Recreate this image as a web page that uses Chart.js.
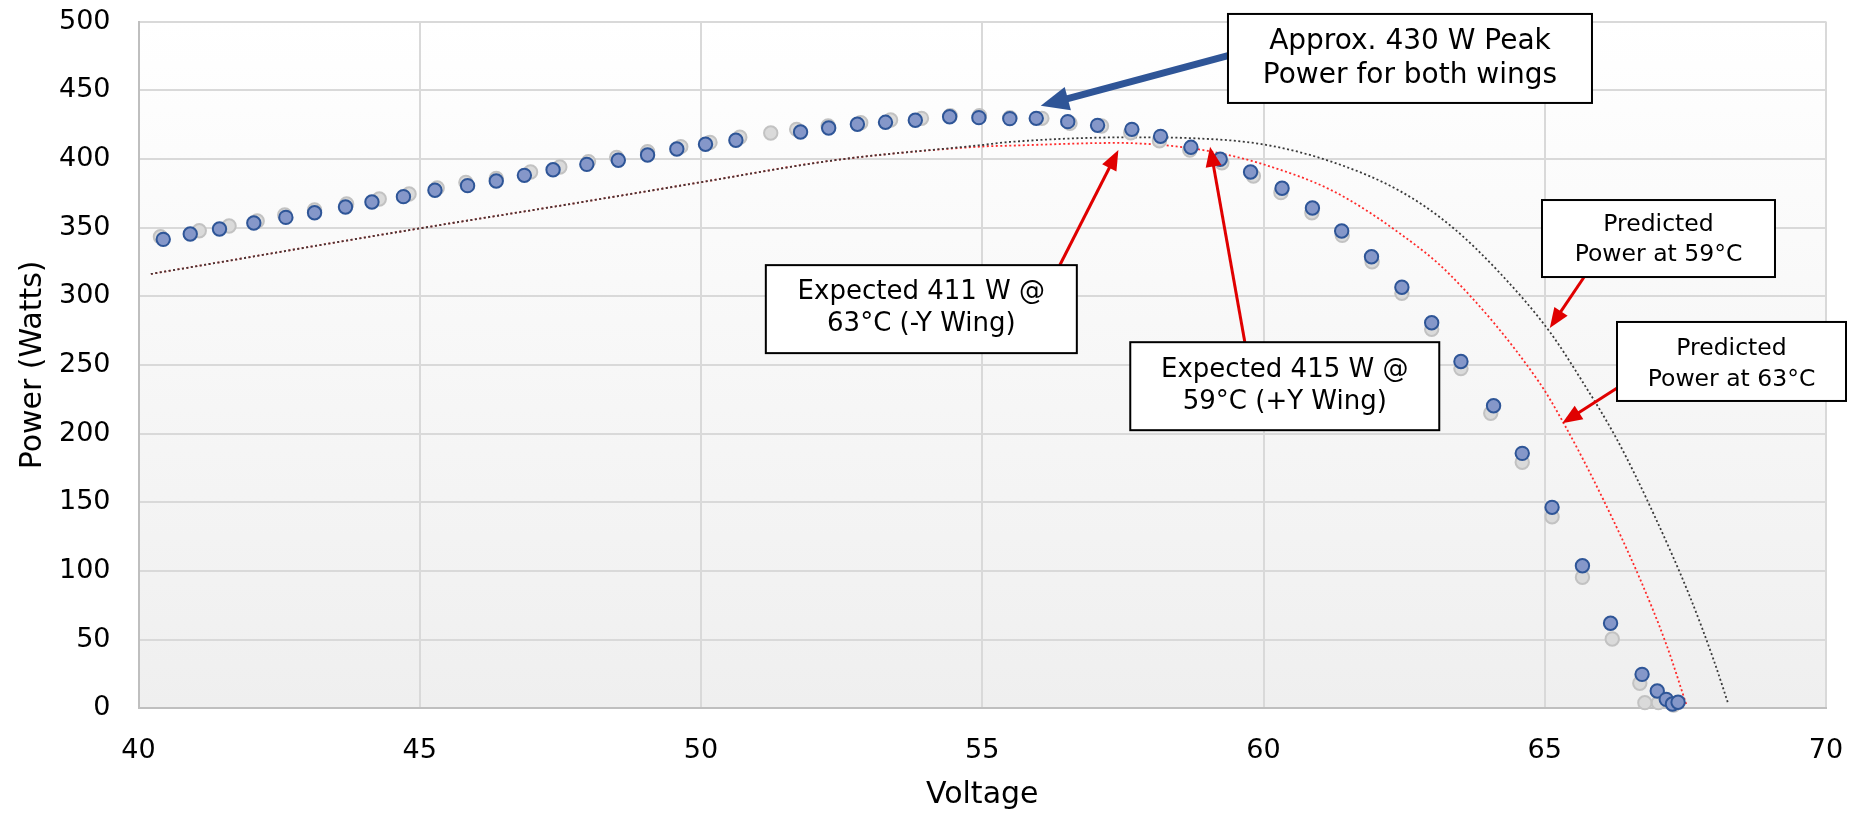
<!DOCTYPE html>
<html>
<head>
<meta charset="utf-8">
<script src="https://cdn.jsdelivr.net/npm/chart.js@4.4.0/dist/chart.umd.min.js"></script>
<style>
html,body{margin:0;padding:0;background:#fff;}
#wrap{width:1870px;height:815px;position:relative;}
</style>
</head>
<body>
<div id="wrap"><canvas id="c" width="1870" height="815"></canvas></div>
<script>
// ---- Tick labels ----
const xTickValues = [40, 45, 50, 55, 60, 65, 70];
const yTickValues = [0, 50, 100, 150, 200, 250, 300, 350, 400, 450, 500];

// ---- Measured wing data (blue markers) ----
const blueVoltage = [40.44,40.92,41.44,42.05,42.62,43.13,43.68,44.15,44.71,45.27,45.85,46.36,46.86,47.37,47.97,48.53,49.05,49.57,50.08,50.62,51.77,52.27,52.78,53.28,53.81,54.42,54.94,55.49,55.96,56.52,57.05,57.66,58.17,58.71,59.23,59.77,60.33,60.87,61.39,61.92,62.46,62.99,63.51,64.09,64.60,65.13,65.67,66.17,66.73,67.00,67.16,67.27,67.37];
const bluePower = [341.4,345.3,348.9,353.3,357.4,360.8,365.0,368.6,372.5,377.1,380.5,383.9,388.0,392.1,396.0,399.0,402.8,407.2,410.6,413.5,419.6,422.5,425.2,426.6,428.1,430.7,430.0,429.3,429.5,427.1,424.4,421.5,416.4,408.4,399.7,390.4,378.6,364.2,347.5,328.7,306.5,280.7,252.5,220.3,185.6,146.3,103.8,61.9,24.7,12.6,6.5,3.1,4.4];

// ---- Measured wing data (grey markers) ----
const grayVoltage = [40.39,41.08,41.61,42.11,42.60,43.13,43.70,44.28,44.81,45.31,45.82,46.36,46.97,47.49,48.00,48.50,49.05,49.64,50.16,50.69,51.24,51.70,52.26,52.84,53.37,53.92,54.43,54.95,55.49,56.06,56.56,57.12,57.64,58.15,58.69,59.26,59.82,60.31,60.86,61.40,61.93,62.46,62.99,63.51,64.04,64.60,65.13,65.67,66.20,66.69,66.78,67.02,67.29];
const grayPower = [343.3,347.7,351.1,354.8,359.1,362.8,367.1,370.8,374.4,378.8,382.9,385.8,390.4,394.1,398.0,401.1,405.2,408.9,412.0,415.7,418.8,421.5,423.9,426.3,428.3,429.5,431.4,431.4,430.0,429.5,425.9,423.9,419.0,413.2,406.4,397.2,387.5,375.4,360.8,344.3,325.1,302.1,275.9,247.4,214.8,179.1,139.5,95.4,50.5,18.2,4.1,4.1,2.4];

// ---- Predicted curve at 59°C (black dotted) ----
const pred59Voltage = [40.22,45.0,47.67,49.24,49.98,52.41,55.0,55.49,57.63,58.75,60.0,61.24,62.43,63.32,64.2,65.09,65.66,66.28,66.93,67.58,68.0,68.26];
const pred59Power = [316.2,349.4,367.1,377.8,382.9,399.2,410.1,412.3,415.7,415.0,410.5,397.5,376.5,351.5,317.0,274.0,238.5,196.0,142.0,81.3,35.5,3.6];

// ---- Predicted curve at 63°C (red dotted) ----
const pred63Voltage = [40.22,45.0,47.67,49.24,49.98,52.41,55.0,55.49,57.4,58.63,59.23,60.0,61.24,62.43,63.32,64.89,65.33,66.04,66.69,67.17,67.52];
const pred63Power = [316.2,349.4,367.1,377.8,382.9,399.2,409.0,409.6,411.6,408.2,404.0,396.0,376.5,345.5,315.5,238.0,208.0,152.0,94.5,45.5,2.4];

// ---- Annotation texts ----
const note1 = ['Approx. 430 W Peak', 'Power for both wings'];
const note2 = ['Expected 411 W @', '63°C (-Y Wing)'];
const note3 = ['Expected 415 W @', '59°C (+Y Wing)'];
const note4 = ['Predicted', 'Power at 59°C'];
const note5 = ['Predicted', 'Power at 63°C'];

const toPts = (xs, ys) => xs.map((v, i) => ({x: v, y: ys[i]}));

const FONT = '"DejaVu Sans", Verdana, sans-serif';
Chart.defaults.font.family = FONT;
Chart.defaults.color = '#000';

// annotation layout (anchors in data units)
const boxes = [
  {at:[62.604, 473.1], w:364, h:89, size:28, lh:34, dy:0.5, lines:note1},
  {at:[53.917, 290.6], w:311, h:88, size:26, lh:32, dy:-1, lines:note2},
  {at:[60.378, 234.5], w:309, h:88, size:26, lh:32, dy:0, lines:note3},
  {at:[67.022, 342.0], w:233, h:77, size:23.5, lh:30, dy:1.5, lines:note4},
  {at:[68.32, 252.5], w:229, h:79, size:23.5, lh:31, dy:3, lines:note5}
];
const arrows = [
  {from:[59.37, 475.1], to:[56.04, 438.6], color:'#2f5597', lw:7, hl:28, hw:12},
  {from:[56.38, 322.7], to:[57.42, 406.4], color:'#e00000', lw:3, hl:20, hw:8},
  {from:[59.67, 266.2], to:[59.05, 408.9], color:'#e00000', lw:3, hl:20, hw:8},
  {from:[65.70, 314.0], to:[65.09, 276.9], color:'#e00000', lw:3, hl:20, hw:8},
  {from:[66.28, 233.0], to:[65.31, 207.5], color:'#e00000', lw:3, hl:20, hw:8}
];

function drawArrow(ctx, x1, y1, x2, y2, a) {
  const ang = Math.atan2(y2 - y1, x2 - x1);
  const bx = x2 - a.hl * Math.cos(ang), by = y2 - a.hl * Math.sin(ang);
  ctx.strokeStyle = a.color; ctx.lineWidth = a.lw; ctx.lineCap = 'butt';
  ctx.beginPath(); ctx.moveTo(x1, y1); ctx.lineTo(bx + Math.cos(ang), by + Math.sin(ang)); ctx.stroke();
  ctx.fillStyle = a.color;
  ctx.beginPath();
  ctx.moveTo(x2, y2);
  ctx.lineTo(bx + a.hw * Math.sin(ang), by - a.hw * Math.cos(ang));
  ctx.lineTo(bx - a.hw * Math.sin(ang), by + a.hw * Math.cos(ang));
  ctx.closePath(); ctx.fill();
}

const bgPlugin = {
  id: 'plotBg',
  beforeDraw(chart) {
    const {ctx, chartArea: a} = chart;
    const g = ctx.createLinearGradient(0, a.top, 0, a.bottom);
    g.addColorStop(0, '#ffffff');
    g.addColorStop(1, '#efefef');
    ctx.save(); ctx.fillStyle = g; ctx.fillRect(a.left, a.top, a.right - a.left, a.bottom - a.top); ctx.restore();
  }
};

const annoPlugin = {
  id: 'notes',
  afterDraw(chart) {
    const {ctx, scales: {x, y}} = chart;
    ctx.save();
    arrows.forEach(a => drawArrow(ctx,
      x.getPixelForValue(a.from[0]), y.getPixelForValue(a.from[1]),
      x.getPixelForValue(a.to[0]), y.getPixelForValue(a.to[1]), a));
    boxes.forEach(b => {
      const cx = x.getPixelForValue(b.at[0]), cy = y.getPixelForValue(b.at[1]);
      ctx.fillStyle = '#fff';
      ctx.fillRect(cx - b.w / 2, cy - b.h / 2, b.w, b.h);
      ctx.strokeStyle = '#000'; ctx.lineWidth = 2;
      ctx.strokeRect(cx - b.w / 2, cy - b.h / 2, b.w, b.h);
      ctx.fillStyle = '#000';
      ctx.font = b.size + 'px ' + FONT;
      ctx.textAlign = 'center'; ctx.textBaseline = 'middle';
      b.lines.forEach((t, i) => ctx.fillText(t, cx, cy + b.dy + (i - (b.lines.length - 1) / 2) * b.lh));
    });
    ctx.restore();
  }
};

new Chart(document.getElementById('c'), {
  type: 'scatter',
  data: {
    datasets: [
      {label: 'Wing (blue)', data: toPts(blueVoltage, bluePower), backgroundColor: '#8597c9', borderColor: '#2e5597',
       borderWidth: 2, pointRadius: 6.7, order: 0, clip: false},
      {label: 'Wing (grey)', data: toPts(grayVoltage, grayPower), backgroundColor: '#dadada', borderColor: '#c2c2c2',
       borderWidth: 2, pointRadius: 6.7, order: 1, clip: false},
      {label: 'Predicted 59°C', data: toPts(pred59Voltage, pred59Power), showLine: true, pointRadius: 0,
       borderColor: '#3a3a3a', borderWidth: 1.8, borderDash: [2, 2.5], cubicInterpolationMode: 'monotone', fill: false, order: 2},
      {label: 'Predicted 63°C', data: toPts(pred63Voltage, pred63Power), showLine: true, pointRadius: 0,
       borderColor: '#ff2a2a', borderWidth: 1.8, borderDash: [2, 2.5], cubicInterpolationMode: 'monotone', fill: false, order: 3}
    ]
  },
  options: {
    responsive: false,
    animation: false,
    devicePixelRatio: 1,
    events: [],
    layout: {padding: {top: 21.5, right: 44, left: 0, bottom: 0}},
    plugins: {legend: {display: false}, tooltip: {enabled: false}},
    scales: {
      x: {
        type: 'linear', min: 40, max: 70,
        afterBuildTicks: s => { s.ticks = xTickValues.map(v => ({value: v})); },
        afterFit: s => { s.height = 106.7; s.paddingLeft = 0; s.paddingRight = 0; s.paddingTop = 0; s.paddingBottom = 0; },
        ticks: {font: {size: 27}, color: '#000', padding: 26, maxRotation: 0},
        grid: {color: '#d9d9d9', lineWidth: 2, drawTicks: false},
        border: {color: '#bfbfbf', width: 2},
        title: {display: true, text: 'Voltage', font: {size: 30}, color: '#000', padding: {top: 0, bottom: 2}}
      },
      y: {
        type: 'linear', min: 0, max: 500,
        afterBuildTicks: s => { s.ticks = yTickValues.map(v => ({value: v})); },
        afterFit: s => { s.width = 138.5; s.paddingTop = 0; s.paddingBottom = 0; s.paddingLeft = 0; s.paddingRight = 0; },
        ticks: {font: {size: 27}, color: '#000', padding: 28},
        grid: {color: '#d9d9d9', lineWidth: 2, drawTicks: false},
        border: {color: '#bfbfbf', width: 2},
        title: {display: true, text: 'Power (Watts)', font: {size: 30}, color: '#000', padding: {top: 15, bottom: 0}}
      }
    }
  },
  plugins: [bgPlugin, annoPlugin]
});
</script>
</body>
</html>
